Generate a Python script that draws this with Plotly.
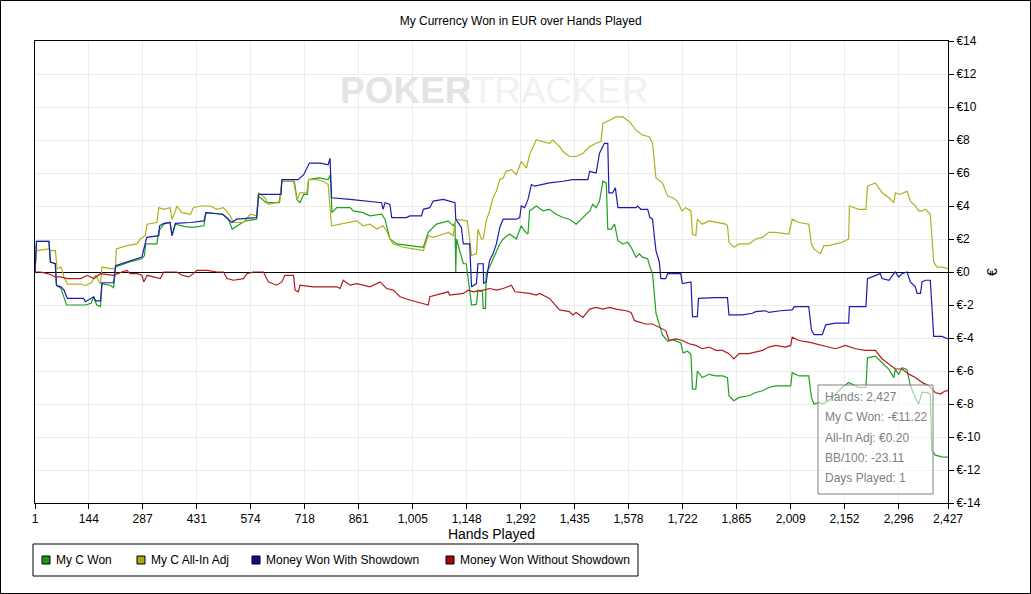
import plotly.graph_objects as go

# --- data (hands played, EUR) ---
won_hands = [1, 5, 38, 42, 55, 58, 70, 78, 85, 135, 150, 157, 165, 175, 179, 200, 210, 215, 250, 285,
             292, 295, 325, 330, 343, 360, 365, 374, 400, 420, 450, 455, 500, 515, 525, 545, 560, 590, 595, 615,
             650, 657, 690, 697, 705, 715, 725, 728, 755, 780, 786, 790, 803, 838, 847, 873, 891, 922, 931, 944,
             962, 997, 1033, 1046, 1068, 1099, 1112, 1117, 1119, 1121, 1125, 1139, 1147, 1161, 1174, 1178, 1190, 1192, 1198, 1200,
             1209, 1227, 1236, 1245, 1262, 1280, 1293, 1305, 1311, 1315, 1333, 1351, 1368, 1386, 1404, 1421, 1439, 1448, 1475, 1483,
             1492, 1501, 1510, 1519, 1523, 1532, 1541, 1550, 1563, 1576, 1585, 1598, 1607, 1615, 1629, 1635, 1642, 1651, 1660, 1668,
             1682, 1695, 1717, 1723, 1735, 1744, 1748, 1757, 1761, 1774, 1792, 1810, 1828, 1841, 1845, 1858, 1872, 1898, 1916, 1934,
             1951, 1969, 1995, 2009, 2013, 2031, 2057, 2064, 2071, 2084, 2093, 2110, 2146, 2163, 2190, 2209, 2213, 2234, 2252, 2270,
             2283, 2287, 2296, 2305, 2318, 2327, 2340, 2349, 2358, 2371, 2380, 2384, 2393, 2411, 2427]
won_vals = [0, 1.86, 1.86, 0.6, 0.5, -0.8, -1.0, -1.6, -2.0, -2.0, -1.9, -1.5, -2.0, -2.1, -0.7, -0.8, -0.95, 0.3, 0.6, 0.8,
            1.0, 1.7, 1.7, 2.5, 2.9, 3.0, 2.2, 2.9, 2.75, 2.7, 2.8, 3.6, 3.5, 3.2, 2.6, 2.9, 3.1, 3.2, 4.6, 4.2,
            4.2, 5.5, 5.5, 4.4, 4.2, 4.7, 4.7, 5.6, 5.7, 5.6, 5.9, 3.6, 3.9, 3.9, 3.7, 3.6, 3.4, 3.5, 3.2, 2.0,
            1.7, 1.6, 1.5, 2.4, 2.9, 3.1, 2.8, 3.0, 0.0, 2.0, 1.7, 0.5, 0.5, -2.0, -1.95, -1.1, -1.2, -2.2, -2.2, -0.1,
            0.3, 1.3, 1.7, 2.0, 2.3, 2.0, 2.8, 2.4, 2.3, 3.7, 4.0, 3.7, 3.8, 3.5, 3.3, 3.2, 2.9, 3.1, 3.7, 4.1,
            3.9, 4.3, 5.5, 5.4, 2.6, 2.6, 2.9, 1.9, 1.7, 1.8, 1.5, 0.9, 1.1, 0.9, 0.8, 0.3, -0.1, -2.5, -3.2, -3.8,
            -4.2, -4.1, -4.3, -4.9, -4.8, -5.0, -7.1, -7.1, -6.0, -6.4, -6.2, -6.3, -6.3, -6.4, -7.5, -7.8, -7.6, -7.5, -7.3, -7.2,
            -7.0, -6.9, -6.9, -6.9, -6.1, -6.3, -6.3, -7.6, -8.0, -7.9, -8.0, -7.8, -7.0, -6.7, -7.0, -7.0, -5.2, -5.1, -5.5, -5.9,
            -6.4, -5.9, -6.2, -5.8, -5.9, -6.9, -7.6, -8.0, -7.3, -7.3, -7.4, -10.8, -11.1, -11.2, -11.22]

adj_hands = [1, 5, 38, 42, 55, 60, 70, 78, 87, 122, 135, 152, 162, 175, 179, 201, 215, 217, 245, 272,
             281, 294, 299, 325, 330, 343, 360, 365, 374, 378, 391, 414, 422, 440, 467, 484, 502, 520, 528, 555,
             573, 590, 595, 612, 621, 643, 652, 657, 688, 697, 705, 723, 728, 750, 767, 780, 789, 838, 856, 873,
             891, 909, 926, 935, 944, 953, 980, 1006, 1033, 1046, 1059, 1086, 1099, 1112, 1119, 1150, 1161, 1174, 1178, 1187,
             1192, 1200, 1209, 1218, 1227, 1236, 1245, 1253, 1267, 1280, 1293, 1307, 1315, 1333, 1351, 1368, 1377, 1395, 1404, 1421,
             1439, 1457, 1475, 1492, 1505, 1510, 1528, 1545, 1563, 1581, 1598, 1615, 1633, 1642, 1651, 1668, 1682, 1695, 1708, 1720,
             1730, 1744, 1748, 1757, 1761, 1774, 1792, 1810, 1836, 1841, 1845, 1858, 1872, 1898, 1916, 1934, 1951, 1969, 2004, 2013,
             2031, 2057, 2064, 2071, 2088, 2097, 2110, 2128, 2146, 2163, 2165, 2190, 2209, 2213, 2234, 2252, 2270, 2283, 2287, 2300,
             2318, 2327, 2340, 2349, 2358, 2367, 2380, 2389, 2398, 2411, 2427]
adj_vals = [0, 1.3, 1.4, 1.3, 1.3, 0.2, 0.3, -0.3, -0.73, -0.73, -0.83, -0.63, -0.2, -0.73, 0.3, 0.2, 0.2, 1.4, 1.6, 1.7,
            2.0, 2.2, 2.9, 3.0, 3.9, 3.8, 3.9, 3.2, 3.7, 4.0, 3.6, 3.5, 3.9, 4.0, 4.0, 3.8, 3.9, 3.4, 3.0, 3.0,
            3.5, 3.4, 4.8, 4.5, 4.1, 4.2, 4.3, 5.5, 5.5, 4.4, 4.8, 4.8, 5.6, 5.6, 5.5, 5.3, 2.8, 3.0, 3.1, 2.8,
            2.9, 2.6, 2.8, 2.5, 2.0, 1.7, 1.5, 1.4, 1.3, 2.2, 2.1, 2.3, 2.4, 2.2, 3.2, 3.1, 1.0, 1.1, 2.6, 2.0,
            2.0, 3.1, 3.7, 4.5, 4.9, 5.6, 5.7, 6.1, 6.2, 5.9, 6.7, 6.3, 7.1, 8.0, 7.9, 7.8, 8.0, 7.6, 7.3, 7.0,
            7.0, 7.2, 7.6, 7.8, 7.9, 9.0, 9.2, 9.4, 9.4, 9.1, 8.6, 8.3, 8.2, 7.8, 5.7, 5.4, 4.6, 4.5, 4.3, 3.7,
            3.9, 3.7, 2.3, 2.2, 3.2, 2.9, 3.1, 3.0, 2.9, 2.8, 1.8, 1.5, 1.7, 1.7, 2.0, 2.1, 2.4, 2.4, 2.3, 3.2,
            3.0, 2.9, 1.7, 1.4, 1.1, 1.6, 1.6, 1.7, 1.8, 2.0, 4.0, 3.8, 3.8, 5.2, 5.4, 4.8, 4.5, 4.2, 4.8, 4.7,
            4.9, 4.3, 4.0, 3.7, 3.7, 3.8, 3.5, 0.6, 0.3, 0.3, 0.2]

sd_hands = [1, 5, 38, 42, 55, 58, 70, 78, 87, 130, 135, 157, 162, 175, 179, 210, 215, 255, 285, 298,
            330, 332, 343, 360, 365, 374, 415, 450, 455, 500, 524, 537, 590, 595, 655, 657, 700, 715, 730, 760,
            780, 785, 789, 838, 873, 922, 926, 931, 944, 949, 988, 997, 1028, 1033, 1050, 1059, 1086, 1103, 1117, 1119,
            1134, 1139, 1156, 1161, 1174, 1178, 1192, 1193, 1200, 1205, 1209, 1218, 1227, 1236, 1245, 1280, 1289, 1293, 1302, 1311,
            1320, 1329, 1351, 1368, 1404, 1430, 1470, 1475, 1492, 1501, 1514, 1523, 1526, 1536, 1543, 1550, 1598, 1602, 1611, 1629,
            1635, 1642, 1646, 1651, 1660, 1664, 1677, 1682, 1717, 1721, 1744, 1748, 1761, 1764, 1810, 1841, 1845, 1881, 1907, 1916,
            1942, 1951, 1982, 2013, 2018, 2057, 2064, 2071, 2093, 2102, 2128, 2163, 2165, 2209, 2213, 2234, 2247, 2252, 2270, 2283,
            2287, 2296, 2305, 2318, 2327, 2340, 2345, 2354, 2358, 2367, 2380, 2389, 2411, 2427]
sd_vals = [0, 1.86, 1.86, 0.6, 0.5, -0.8, -0.9, -1.1, -1.6, -1.6, -1.8, -1.5, -1.75, -1.75, -0.65, -0.65, 0.38, 0.7, 0.9, 2.1,
           2.2, 2.8, 2.95, 3.0, 2.2, 2.95, 3.0, 3.1, 3.6, 3.5, 3.0, 3.2, 3.3, 4.7, 4.7, 5.6, 5.6, 5.9, 6.6, 6.6,
           6.5, 6.9, 4.5, 4.4, 4.3, 4.2, 3.8, 4.2, 4.1, 3.3, 3.3, 3.4, 3.4, 3.8, 3.9, 4.3, 4.4, 4.3, 4.2, 3.2,
           2.7, 1.7, 1.7, -0.9, -0.7, 0.5, 0.5, -0.7, -0.6, 0.2, 0.7, 1.1, 1.7, 2.7, 3.2, 3.2, 3.3, 4.0, 3.9, 4.4,
           5.3, 5.2, 5.3, 5.4, 5.5, 5.6, 5.6, 6.1, 6.0, 7.2, 7.8, 7.8, 4.8, 4.8, 5.1, 3.9, 3.9, 4.0, 3.8, 3.8,
           3.3, 3.2, 2.3, 1.3, 0.6, -0.4, -0.4, -0.1, -0.1, -0.7, -0.6, -2.7, -2.7, -1.6, -1.55, -1.55, -2.6, -2.6, -2.5, -2.4,
           -2.35, -2.45, -2.35, -2.3, -2.1, -2.1, -3.5, -3.8, -3.8, -3.2, -3.1, -3.1, -2.1, -2.1, -0.4, -0.2, -0.1, -0.4, -0.5, -0.1,
           0.0, -0.3, -0.1, 0.0, -0.6, -0.9, -1.3, -1.3, -0.6, -0.5, -0.5, -3.9, -3.9, -4.05]

nsd_hands = [1, 16, 34, 42, 55, 69, 87, 122, 140, 157, 175, 210, 232, 245, 254, 272, 285, 290, 299, 334,
             343, 378, 392, 409, 422, 431, 458, 484, 502, 511, 528, 555, 564, 581, 608, 621, 643, 657, 665, 688,
             692, 701, 705, 740, 767, 785, 803, 812, 820, 838, 856, 873, 891, 918, 935, 953, 971, 997, 1015, 1046,
             1050, 1068, 1099, 1103, 1139, 1152, 1165, 1192, 1209, 1227, 1245, 1267, 1276, 1315, 1333, 1342, 1368, 1395, 1421, 1430,
             1439, 1457, 1475, 1492, 1510, 1528, 1545, 1572, 1585, 1594, 1607, 1624, 1642, 1660, 1677, 1686, 1704, 1721, 1739, 1757,
             1774, 1792, 1810, 1828, 1845, 1858, 1872, 1898, 1916, 1934, 1951, 1969, 1995, 2009, 2013, 2031, 2057, 2075, 2093, 2110,
             2128, 2155, 2181, 2208, 2234, 2252, 2270, 2287, 2305, 2323, 2340, 2358, 2376, 2393, 2407, 2420, 2427]
nsd_vals = [0, 0.0, -0.1, -0.15, -0.3, -0.3, -0.4, -0.4, -0.2, -0.4, -0.1, -0.2, 0.0, 0.1, -0.1, -0.1, -0.2, -0.6, -0.2, -0.4,
            0.0, 0.0, -0.2, -0.3, -0.1, 0.1, 0.1, 0.0, 0.0, -0.4, -0.5, -0.4, -0.1, 0.0, 0.0, -0.6, -0.8, -0.6, -0.2, -0.2,
            -1.1, -1.2, -0.8, -0.9, -0.9, -0.9, -0.9, -1.0, -0.5, -0.8, -0.7, -0.8, -0.9, -0.6, -1.0, -1.1, -1.5, -1.7, -1.8, -2.0,
            -1.5, -1.4, -1.2, -1.4, -1.3, -1.1, -1.2, -1.1, -1.0, -1.1, -1.0, -0.8, -1.2, -1.3, -1.4, -1.3, -1.6, -2.3, -2.4, -2.6,
            -2.45, -2.75, -2.25, -2.15, -2.25, -2.15, -2.25, -2.35, -2.45, -2.95, -3.05, -3.15, -3.15, -3.35, -3.55, -4.15, -4.05, -4.15, -4.35, -4.45,
            -4.65, -4.55, -4.75, -4.75, -4.95, -5.27, -4.95, -4.95, -4.85, -4.75, -4.55, -4.45, -4.55, -4.45, -3.95, -4.15, -4.25, -4.35, -4.45, -4.55,
            -4.65, -4.45, -4.65, -4.75, -4.75, -5.27, -5.58, -5.88, -5.88, -6.19, -6.39, -6.69, -6.89, -7.3, -7.4, -7.2, -7.2]

x_ticks = [1, 144, 287, 431, 574, 718, 861, 1005, 1148, 1292, 1435, 1578, 1722, 1865, 2009, 2152, 2296, 2427]
y_ticks = list(range(-14, 15, 2))
y_labels = ["€" + str(v) for v in y_ticks]

tip_hands = 2427
tip_won = -11.22
tip_adj = 0.20
tip_bb100 = -23.11
tip_days = 1

series_names = ["My C Won", "My C All-In Adj", "Money Won With Showdown", "Money Won Without Showdown"]
series_x = [won_hands, adj_hands, sd_hands, nsd_hands]
series_y = [won_vals, adj_vals, sd_vals, nsd_vals]
line_colors = ["#1fa01f", "#b0b01c", "#1c1cb0", "#b01c1c"]
swatch_colors = ["#1a9a1a", "#a8a818", "#0a0aa0", "#a80a0a"]

font = "Liberation Sans, Arial, sans-serif"

fig = go.Figure()
for name, xs, ys, col in zip(series_names, series_x, series_y, line_colors):
    fig.add_trace(go.Scatter(x=xs, y=ys, mode="lines", name=name, showlegend=False,
                             line=dict(color=col, width=1.2)))

W, H = 1031, 594
L, R, T, B = 35, 948, 41, 503
pw, ph = R - L, B - T


def px(x):
    return (x - L) / pw


def py(y):
    return (B - y) / ph


fig.update_layout(
    width=W, height=H,
    margin=dict(l=L, r=W - R, t=T, b=H - B),
    paper_bgcolor="white", plot_bgcolor="white",
    font=dict(family=font, size=12, color="black"),
    title=dict(text="My Currency Won in EUR over Hands Played", x=0.505, xanchor="center",
               y=1 - 21 / H, yanchor="middle", font=dict(size=12)),
    showlegend=False,
    hovermode=False,
)

fig.update_xaxes(range=[1, 2427], tickvals=x_ticks, ticktext=[f"{v:,}" for v in x_ticks],
                 showgrid=True, gridcolor="#ebebeb", gridwidth=1,
                 showline=True, linecolor="black", linewidth=1, mirror=True,
                 ticks="outside", ticklen=5, tickcolor="black", zeroline=False,
                 title=dict(text="Hands Played", standoff=3))
fig.update_yaxes(range=[-14, 14], side="right", tickvals=y_ticks, ticktext=y_labels,
                 showgrid=True, gridcolor="#ebebeb", gridwidth=1,
                 showline=True, linecolor="black", linewidth=1, mirror=True,
                 ticks="outside", ticklen=5, tickcolor="black",
                 zeroline=True, zerolinecolor="black", zerolinewidth=1,
                 title=dict(text="€", standoff=7))

# watermark
fig.add_annotation(xref="paper", yref="paper", x=px(494), y=py(68), showarrow=False,
                   text="<b>POKER</b><span style='color:#f1f1f1'>TRACKER</span>",
                   font=dict(family=font, size=37, color="#e4e4e4"))

# legend box drawn by hand to match the original spacing
fig.add_shape(type="rect", xref="paper", yref="paper",
              x0=px(33), x1=px(638), y0=py(576), y1=py(544),
              fillcolor="white", line=dict(color="black", width=1))
legend_left = [42, 137, 252, 446]
for name, sw, lx in zip(series_names, swatch_colors, legend_left):
    fig.add_shape(type="rect", xref="paper", yref="paper",
                  x0=px(lx), x1=px(lx + 8), y0=py(564), y1=py(556),
                  fillcolor=sw, line=dict(color="black", width=1))
    fig.add_annotation(xref="paper", yref="paper", x=px(lx + 12), y=py(560),
                       xanchor="left", yanchor="middle", showarrow=False, text=name,
                       font=dict(size=12, color="black"))

# hover box
fig.add_shape(type="rect", xref="paper", yref="paper",
              x0=px(818), x1=px(933), y0=py(494), y1=py(385),
              fillcolor="rgba(255,255,255,0.55)", line=dict(color="#808080", width=1))
tip_lines = [f"Hands: {tip_hands:,}", f"My C Won: -€{abs(tip_won):.2f}", f"All-In Adj: €{tip_adj:.2f}",
             f"BB/100: {tip_bb100:.2f}", f"Days Played: {tip_days}"]
for i, t in enumerate(tip_lines):
    fig.add_annotation(xref="paper", yref="paper", x=px(823), y=py(397 + 20.3 * i),
                       xanchor="left", yanchor="middle", showarrow=False, text=t,
                       font=dict(size=12, color="#808080"))

# outer frame of the image
fig.add_shape(type="rect", xref="paper", yref="paper",
              x0=px(0.5), x1=px(W - 0.5), y0=py(H - 0.5), y1=py(0.5),
              line=dict(color="black", width=1))

fig.write_html("out.html", config={"displayModeBar": False},
               post_script="document.body.style.margin='0';document.body.style.overflow='hidden';")
